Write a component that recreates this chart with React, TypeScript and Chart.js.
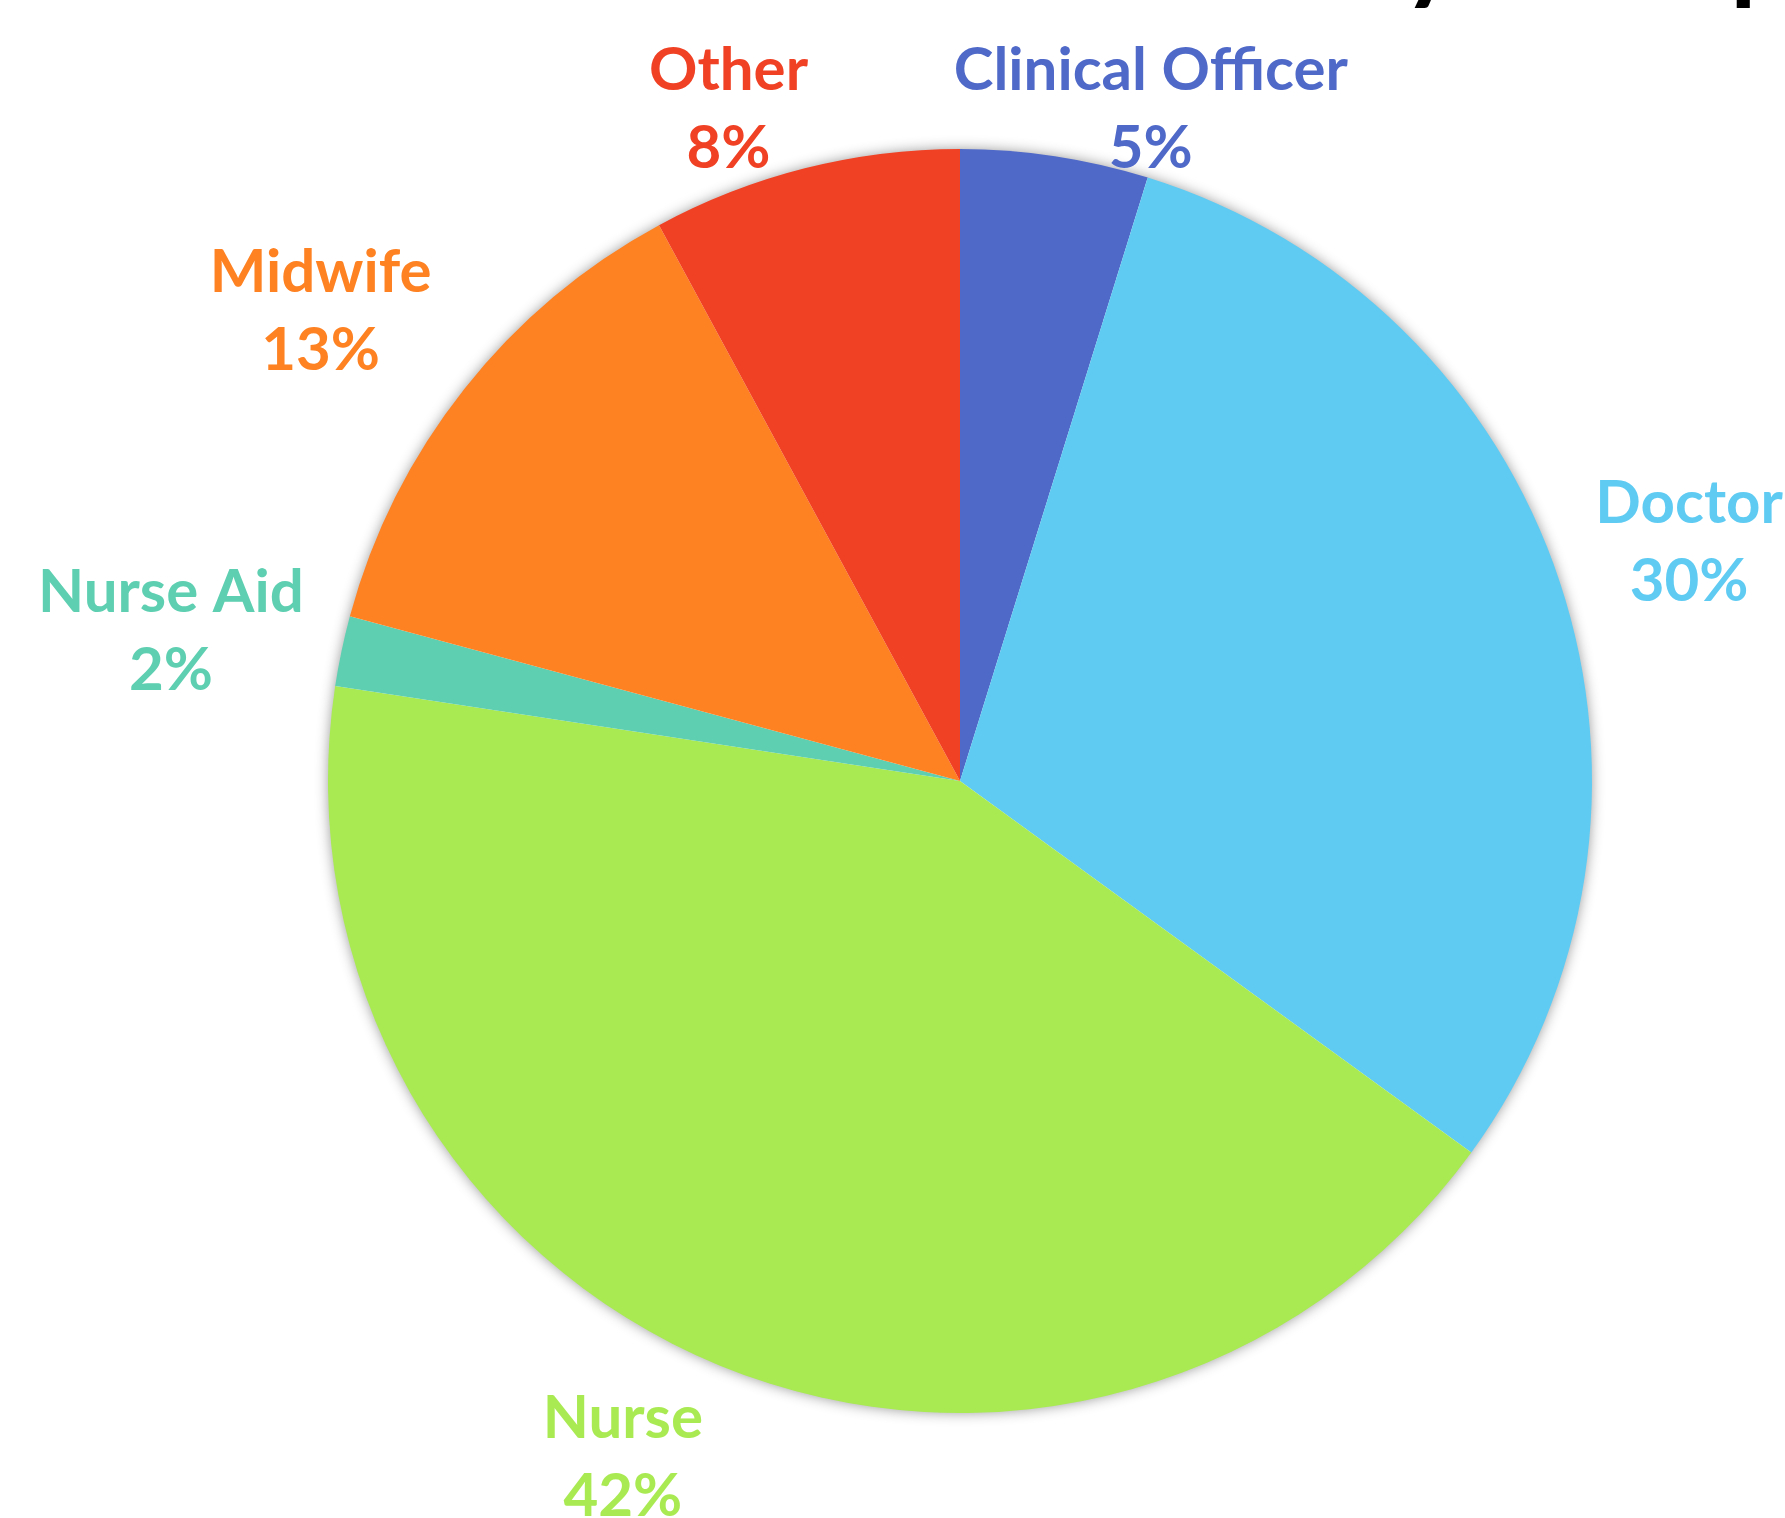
import React, { useEffect, useRef } from "react";
import { Chart, registerables } from "chart.js";

Chart.register(...registerables);

const categories = ["Clinical Officer", "Doctor", "Nurse", "Nurse Aid", "Midwife", "Other"];
const shares = [4.8, 30.2, 42.4, 1.8, 12.9, 7.9];
const sliceColors = ["#4F69C9", "#5FCBF3", "#A9EA52", "#5ECFB1", "#FE8122", "#F04124"];
const titleText = "Distribution of Health Workers by Occupation";

// label layout nudges (px) applied after outside-end placement
const labelNudgeX = [64, 26, -61, -26, -45, -53];
const labelNudgeY = [33, -14, 18, -3, -28, 19];

const W = 1785;
const H = 1518;
const LABEL_FONT = "bold 60px Lato, 'Open Sans', sans-serif";
const LINE_GAP = 78;

const shadowPlugin = {
  id: "pieShadow",
  beforeDatasetsDraw(chart: any) {
    const meta = chart.getDatasetMeta(0);
    const arc = meta.data[0];
    if (!arc) return;
    const ctx = chart.ctx;
    ctx.save();
    ctx.shadowColor = "rgba(0,0,0,0.45)";
    ctx.shadowBlur = 14;
    ctx.shadowOffsetX = 0;
    ctx.shadowOffsetY = 0;
    ctx.fillStyle = "#ffffff";
    ctx.beginPath();
    ctx.arc(arc.x, arc.y, arc.outerRadius - 1, 0, Math.PI * 2);
    ctx.fill();
    ctx.restore();
  },
};

const labelPlugin = {
  id: "outsideLabels",
  afterDatasetsDraw(chart: any) {
    const meta = chart.getDatasetMeta(0);
    const ctx = chart.ctx;
    const data = chart.data.datasets[0].data as number[];
    const total = data.reduce((a, b) => a + b, 0);
    ctx.save();
    ctx.font = LABEL_FONT;
    ctx.textAlign = "center";
    ctx.textBaseline = "middle";
    meta.data.forEach((arc: any, i: number) => {
      const mid = (arc.startAngle + arc.endAngle) / 2;
      const dx = Math.cos(mid);
      const dy = Math.sin(mid);
      const r = arc.outerRadius + 15;
      const ax = arc.x + dx * r;
      const ay = arc.y + dy * r;
      const name = chart.data.labels[i];
      const pct = Math.round((data[i] / total) * 100) + "%";
      const w = Math.max(ctx.measureText(name).width, ctx.measureText(pct).width);
      const h = 130;
      const cx = ax + (dx * w) / 2 + labelNudgeX[i];
      const cy = ay + (dy * h) / 2 + labelNudgeY[i];
      ctx.fillStyle = sliceColors[i];
      ctx.fillText(name, cx, cy - LINE_GAP / 2);
      ctx.fillText(pct, cx, cy + LINE_GAP / 2);
    });
    ctx.restore();
  },
};

const titlePlugin = {
  id: "cutTitle",
  afterDraw(chart: any) {
    const ctx = chart.ctx;
    ctx.save();
    ctx.font = "bold 106px Lato, 'Open Sans', sans-serif";
    ctx.fillStyle = "#000000";
    ctx.textAlign = "left";
    ctx.textBaseline = "alphabetic";
    const idx = titleText.indexOf("y ");
    const prefixW = ctx.measureText(titleText.slice(0, idx)).width;
    const x0 = 1404 - prefixW;
    ctx.fillText(titleText, x0, -10);
    ctx.restore();
  },
};

export default function App() {
  const ref = useRef<HTMLCanvasElement | null>(null);
  useEffect(() => {
    document.body.style.margin = "0";
    const canvas = ref.current;
    if (!canvas) return;
    const chart = new Chart(canvas, {
      type: "pie",
      data: {
        labels: categories,
        datasets: [
          {
            data: shares,
            backgroundColor: sliceColors,
            borderWidth: 0,
            hoverOffset: 0,
          },
        ],
      },
      options: {
        responsive: false,
        animation: false,
        layout: { padding: { left: 328, right: 193, top: 149, bottom: 105 } },
        plugins: {
          legend: { display: false },
          tooltip: { enabled: false },
          title: { display: false },
        },
      },
      plugins: [shadowPlugin, labelPlugin, titlePlugin],
    });
    return () => chart.destroy();
  }, []);
  return (
    <div style={{ width: W, height: H, background: "#ffffff" }}>
      <canvas ref={ref} width={W} height={H} style={{ display: "block" }} />
    </div>
  );
}
